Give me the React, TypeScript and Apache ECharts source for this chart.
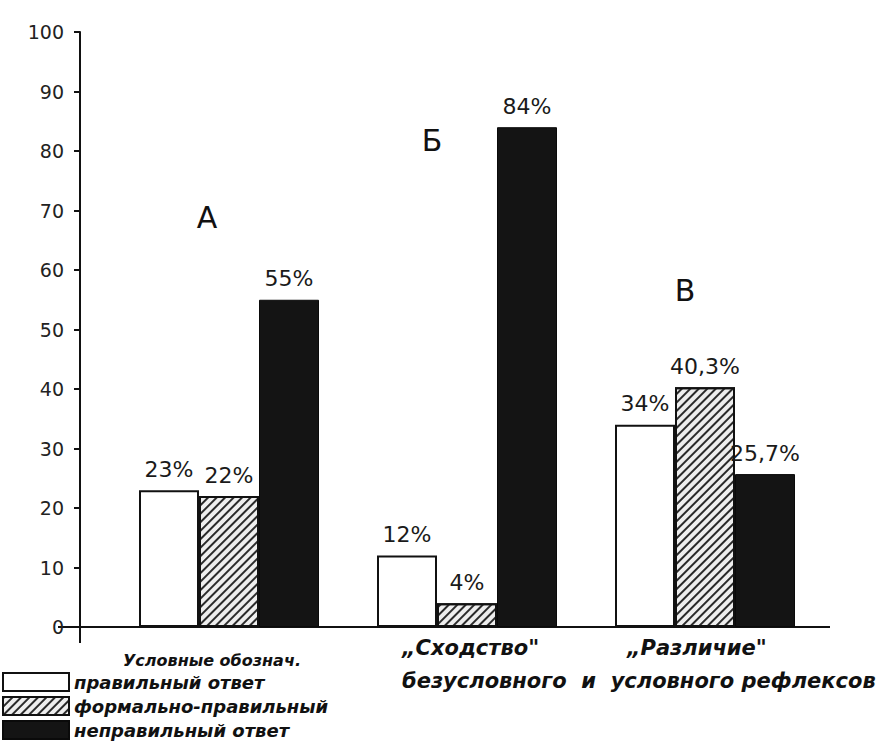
import React, { useEffect, useRef } from 'react';
import * as echarts from 'echarts';

// ---- data ----
const groups = ['А', 'Б', 'В'];
const seriesNames = ['правильный ответ', 'формально-правильный', 'неправильный ответ'];
const correctValues = [23, 12, 34];
const formalValues = [22, 4, 40.3];
const wrongValues = [55, 84, 25.7];
const captionTop = ['„Сходство"', '„Различие"'];
const captionBottom = 'безусловного  и  условного рефлексов';
const legendTitle = 'Условные обознач.';

const HAND = "'DejaVu Sans', sans-serif";
const PLAIN = "'DejaVu Sans', sans-serif";

export default function App() {
  const ref = useRef<HTMLDivElement>(null);
  useEffect(() => {
    if (!ref.current) return;
    const chart = echarts.init(ref.current, undefined, { renderer: 'svg' });
    const label = {
      show: true,
      position: 'top',
      distance: 10,
      fontFamily: PLAIN,
      fontSize: 22,
      color: '#1a1a1a',
      formatter: (p: any) => String(p.value).replace('.', ',') + '%',
    };
    const handText = (text: string, x: number, y: number, size: number, align = 'left') => ({
      type: 'text',
      x,
      y,
      style: {
        text,
        fontFamily: HAND,
        fontSize: size,
        fontStyle: 'italic',
        fontWeight: 'bold',
        fill: '#111',
        textAlign: align,
        textVerticalAlign: 'middle',
      },
    });
    const letter = (text: string, x: number, y: number) => ({
      type: 'text',
      x,
      y,
      style: {
        text,
        fontFamily: PLAIN,
        fontSize: 30,
        fill: '#111',
        textAlign: 'center',
        textVerticalAlign: 'middle',
      },
    });
    chart.setOption({
      animation: false,
      backgroundColor: '#ffffff',
      grid: { left: 110, right: 56, top: 32, bottom: 119 },
      legend: {
        orient: 'vertical',
        left: 2,
        top: 672,
        height: 80,
        padding: 0,
        itemWidth: 66,
        itemHeight: 18,
        itemGap: 4,
        icon: 'rect',
        selectedMode: false,
        data: seriesNames,
        textStyle: {
          fontFamily: HAND,
          fontSize: 18,
          fontStyle: 'italic',
          fontWeight: 'bold',
          color: '#111',
          lineHeight: 18,
        },
      },
      xAxis: {
        type: 'category',
        data: groups,
        axisLine: { show: false },
        axisTick: { show: false },
        axisLabel: { show: false },
      },
      yAxis: {
        type: 'value',
        min: 0,
        max: 100,
        interval: 10,
        offset: 30,
        splitLine: { show: false },
        axisLine: { show: true, lineStyle: { color: '#111', width: 2 } },
        axisTick: { show: true, inside: false, length: 6, lineStyle: { color: '#111', width: 2 } },
        axisLabel: { margin: 16, fontFamily: PLAIN, fontSize: 19, color: '#222' },
      },
      series: [
        {
          name: seriesNames[0],
          type: 'bar',
          data: correctValues,
          barWidth: 60,
          barGap: '0%',
          itemStyle: { color: '#ffffff', borderColor: '#111', borderWidth: 2 },
          label,
        },
        {
          name: seriesNames[1],
          type: 'bar',
          data: formalValues,
          barWidth: 60,
          barGap: '0%',
          itemStyle: {
            color: '#eeeeee',
            borderColor: '#111',
            borderWidth: 2,
            decal: {
              symbol: 'rect',
              symbolSize: 1,
              color: '#2a2a2a',
              dashArrayX: [1, 0],
              dashArrayY: [2, 3.5],
              rotation: -Math.PI / 4,
            },
          },
          label,
        },
        {
          name: seriesNames[2],
          type: 'bar',
          data: wrongValues,
          barWidth: 60,
          barGap: '0%',
          itemStyle: { color: '#141414', borderColor: '#0a0a0a', borderWidth: 1 },
          label,
        },
      ],
      graphic: [
        { type: 'line', shape: { x1: 58, y1: 627, x2: 830, y2: 627 }, style: { stroke: '#111', lineWidth: 2 } },
        { type: 'line', shape: { x1: 80, y1: 627, x2: 80, y2: 643 }, style: { stroke: '#111', lineWidth: 2 } },
        letter('А', 207, 217),
        letter('Б', 432, 140),
        letter('В', 685, 290),
        handText(legendTitle, 123, 660, 16),
        handText(captionTop[0], 402, 648, 21),
        handText(captionTop[1], 627, 648, 21),
        handText(captionBottom, 402, 681, 21),
      ],
    });
    return () => chart.dispose();
  }, []);
  return (
    <div
      ref={ref}
      style={{ position: 'fixed', left: 0, top: 0, width: 880, height: 746, background: '#fff' }}
    />
  );
}
